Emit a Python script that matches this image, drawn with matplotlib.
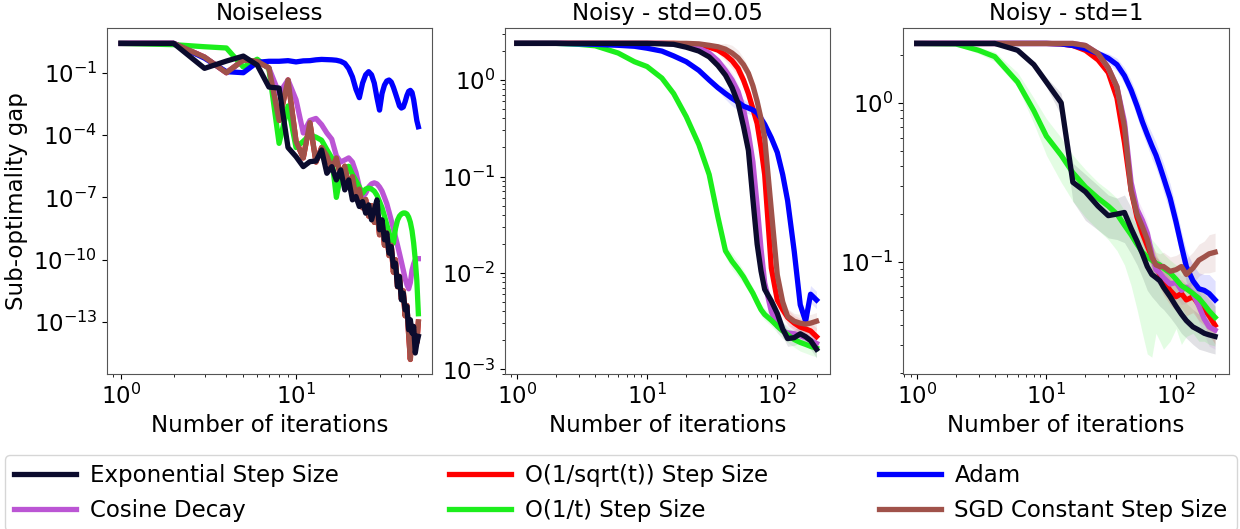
import matplotlib

matplotlib.use("Agg")

import matplotlib.pyplot as plt
import numpy as np
from matplotlib.ticker import NullLocator

# ---------------------------------------------------------------- data
# Noiseless panel: one point per iteration, values stored as log10(gap)
iters_noiseless = list(range(1, 51))

noiseless_exp_log10 = [
    0.41, 0.41, -0.79, -0.44, -0.2, -0.63, -1.69, -1.74, -4.6, -5.04,
    -5.52, -5.28, -5.25, -4.72, -5.84, -5.52, -6.16, -5.68, -6.64, -6.16,
    -7.12, -6.96, -7.44, -7.2, -7.76, -7.36, -8.08, -7.6, -7.12, -8.56,
    -8.08, -9.04, -8.72, -9.68, -9.37, -10.33, -10.17, -11.29, -10.81, -11.93,
    -11.61, -12.41, -12.25, -13.37, -12.89, -13.53, -13.21, -14.49, -14.01, -13.69,
]
noiseless_sgd_log10 = [
    0.41, 0.41, -0.25, -1.0, -0.39, -0.45, -0.77, -3.3, -1.35, -4.3,
    -5.1, -3.4, -5.3, -4.6, -5.0, -5.6, -5.1, -6.0, -5.5, -6.5,
    -6.0, -7.0, -6.6, -7.5, -7.1, -7.9, -7.4, -8.2, -7.6, -8.8,
    -8.2, -9.3, -8.7, -9.8, -9.3, -10.6, -10.0, -11.3, -10.8, -11.9,
    -11.5, -12.7, -12.2, -13.6, -14.8, -13.2, -13.9, -13.4, -14.0, -13.0,
]
# O(1/sqrt(t)) sits exactly under the constant step curve in this panel
noiseless_sqrt_log10 = list(noiseless_sgd_log10)
noiseless_inv_t_log10 = [
    0.41, 0.35, 0.25, 0.19, -0.73, -0.35, -0.8, -4.4, -2.6, -4.6,
    -4.3, -4.0, -4.1, -4.25, -4.7, -5.1, -7.0, -5.9, -5.6, -5.5,
    -5.9, -6.2, -6.5, -6.8, -6.6, -6.55, -6.6, -6.7, -6.9, -7.2,
    -7.5, -7.9, -8.3, -8.7, -9.1, -9.2, -8.5, -8.1, -7.9, -7.8,
    -7.75, -7.75, -7.8, -7.95, -8.2, -8.6, -9.2, -10.0, -11.0, -12.6,
]
noiseless_cos_log10 = [
    0.41, 0.41, -0.25, -1.0, -0.39, -0.45, -0.77, -2.0, -1.35, -2.3,
    -3.9, -3.3, -3.2, -3.5, -3.9, -4.2, -5.0, -5.3, -5.2, -5.1,
    -5.3, -5.8, -6.5, -7.0, -6.8, -6.5, -6.35, -6.3, -6.35, -6.5,
    -6.7, -7.0, -7.3, -7.7, -8.1, -8.5, -8.9, -9.3, -9.7, -10.1,
    -10.5, -10.9, -11.2, -11.4, -11.1, -10.5, -10.2, -10.0, -9.95, -9.95,
]
noiseless_adam_log10 = [
    0.41, 0.41, -0.3, -0.95, -1.0, -0.5, -0.45, -0.45, -0.42, -0.48,
    -0.43, -0.42, -0.38, -0.36, -0.37, -0.38, -0.4, -0.45, -0.55, -0.8,
    -1.2, -1.8, -2.2, -1.5, -1.1, -0.95, -1.1, -1.5, -2.2, -2.8,
    -2.0, -1.6, -1.4, -1.35, -1.45, -1.7, -2.0, -2.3, -2.6, -2.7,
    -2.65, -2.4, -2.1, -1.9, -1.85, -1.95, -2.3, -2.8, -3.3, -3.6,
]

# Noisy panels: mean curves read at these iterations (log10 of gap)
iters_noisy = [1, 2, 3, 4, 6, 8, 10, 13, 16, 20, 25, 30, 35, 40, 45, 50,
               55, 60, 65, 70, 75, 80, 90, 100, 110, 120, 135, 150, 165, 180, 200]

std005_exp_log10 = [0.38, 0.38, 0.38, 0.38, 0.38, 0.38, 0.38, 0.375, 0.37, 0.34, 0.30,
                    0.24, 0.15, 0.05, -0.08, -0.24, -0.48, -0.73, -1.24, -1.70, -1.98,
                    -2.17, -2.29, -2.42, -2.58, -2.68, -2.67, -2.63, -2.66, -2.70, -2.79]
std005_cos_log10 = [0.38, 0.38, 0.38, 0.38, 0.38, 0.38, 0.38, 0.38, 0.375, 0.36, 0.33,
                    0.28, 0.20, 0.10, 0.0, -0.12, -0.30, -0.55, -0.85, -1.30, -1.75,
                    -2.10, -2.40, -2.55, -2.60, -2.62, -2.63, -2.65, -2.67, -2.70, -2.73]
std005_sqrt_log10 = [0.38, 0.38, 0.38, 0.38, 0.38, 0.38, 0.38, 0.38, 0.38, 0.375, 0.36,
                     0.34, 0.31, 0.26, 0.20, 0.12, 0.0, -0.14, -0.30, -0.45, -0.70,
                     -0.98, -1.95, -2.28, -2.38, -2.46, -2.52, -2.56, -2.58, -2.60, -2.66]
std005_inv_t_log10 = [0.38, 0.38, 0.37, 0.355, 0.28, 0.19, 0.14, 0.02, -0.14, -0.38, -0.67,
                      -0.98, -1.42, -1.77, -1.88, -1.96, -2.04, -2.13, -2.21, -2.30, -2.38,
                      -2.43, -2.49, -2.55, -2.60, -2.64, -2.69, -2.72, -2.74, -2.76, -2.78]
std005_adam_log10 = [0.38, 0.38, 0.375, 0.37, 0.36, 0.35, 0.33, 0.30, 0.25, 0.19, 0.10,
                     0.0, -0.08, -0.14, -0.19, -0.23, -0.27, -0.29, -0.31, -0.34, -0.40,
                     -0.46, -0.60, -0.75, -0.98, -1.25, -1.78, -2.33, -2.50, -2.22, -2.28]
std005_sgd_log10 = [0.38, 0.38, 0.38, 0.38, 0.38, 0.38, 0.38, 0.38, 0.38, 0.38, 0.375,
                    0.36, 0.345, 0.32, 0.28, 0.23, 0.16, 0.07, -0.06, -0.22, -0.40,
                    -0.60, -1.35, -2.02, -2.30, -2.45, -2.50, -2.52, -2.53, -2.52, -2.50]
# half-width of the shaded band, in decades
std005_spread = [0, 0, 0, 0, 0, 0, 0, 0, 0, 0, 0,
                 0.01, 0.03, 0.06, 0.08, 0.08, 0.07, 0.06, 0.06, 0.06, 0.06,
                 0.06, 0.06, 0.07, 0.08, 0.08, 0.08, 0.09, 0.09, 0.09, 0.09]

std1_exp_log10 = [0.373, 0.373, 0.373, 0.373, 0.33, 0.24, 0.13, 0.0, -0.50, -0.56, -0.65,
                  -0.71, -0.70, -0.69, -0.79, -0.87, -0.95, -1.03, -1.08, -1.10, -1.12,
                  -1.16, -1.22, -1.28, -1.33, -1.37, -1.41, -1.43, -1.45, -1.46, -1.47]
std1_cos_log10 = [0.373, 0.373, 0.373, 0.373, 0.373, 0.373, 0.373, 0.373, 0.373, 0.36, 0.31,
                  0.22, 0.10, -0.12, -0.50, -0.67, -0.74, -0.82, -0.95, -1.05, -1.07,
                  -1.10, -1.14, -1.13, -1.18, -1.16, -1.20, -1.28, -1.36, -1.41, -1.43]
std1_sqrt_log10 = [0.373, 0.373, 0.373, 0.373, 0.373, 0.373, 0.373, 0.37, 0.36, 0.33, 0.27,
                   0.19, 0.03, -0.25, -0.55, -0.72, -0.82, -0.90, -0.97, -1.03, -1.08,
                   -1.12, -1.18, -1.22, -1.20, -1.24, -1.22, -1.27, -1.30, -1.34, -1.40]
std1_inv_t_log10 = [0.373, 0.37, 0.33, 0.29, 0.13, -0.05, -0.21, -0.33, -0.44, -0.53, -0.60,
                    -0.65, -0.70, -0.77, -0.83, -0.89, -0.94, -0.97, -0.99, -1.01, -1.02,
                    -1.04, -1.07, -1.11, -1.15, -1.17, -1.20, -1.23, -1.27, -1.31, -1.35]
std1_adam_log10 = [0.373, 0.373, 0.373, 0.373, 0.373, 0.373, 0.373, 0.37, 0.36, 0.34, 0.31,
                   0.28, 0.24, 0.17, 0.08, -0.02, -0.12, -0.20, -0.27, -0.33, -0.40,
                   -0.47, -0.60, -0.75, -0.90, -1.03, -1.12, -1.17, -1.18, -1.20, -1.24]
std1_sgd_log10 = [0.373, 0.373, 0.373, 0.373, 0.373, 0.373, 0.373, 0.373, 0.373, 0.36, 0.31,
                  0.22, 0.10, -0.15, -0.55, -0.70, -0.78, -0.86, -0.97, -1.02, -1.03,
                  -1.03, -1.06, -1.05, -1.03, -1.08, -1.04, -0.99, -0.97, -0.95, -0.94]
std1_spread = [0, 0, 0, 0, 0, 0, 0, 0.01, 0.01, 0.02, 0.02,
               0.03, 0.04, 0.05, 0.06, 0.07, 0.07, 0.07, 0.08, 0.08, 0.08,
               0.09, 0.09, 0.09, 0.09, 0.10, 0.10, 0.10, 0.10, 0.12, 0.12]
std1_inv_t_lo_log10 = [0.373, 0.36, 0.31, 0.26, 0.10, -0.13, -0.33, -0.50, -0.62, -0.72, -0.80,
                       -0.86, -0.93, -1.02, -1.15, -1.30, -1.45, -1.58, -1.60, -1.45, -1.50,
                       -1.55, -1.50, -1.42, -1.52, -1.47, -1.45, -1.50, -1.50, -1.52, -1.53]
std1_inv_t_hi_log10 = [0.373, 0.375, 0.35, 0.32, 0.19, 0.03, -0.10, -0.22, -0.33, -0.42, -0.50,
                       -0.55, -0.60, -0.68, -0.72, -0.77, -0.80, -0.83, -0.86, -0.89, -0.92,
                       -0.95, -0.99, -1.02, -1.05, -1.08, -1.12, -1.15, -1.20, -1.24, -1.28]
std1_exp_lo_log10 = [0.37, 0.37, 0.37, 0.37, 0.32, 0.22, 0.10, -0.08, -0.62, -0.74, -0.80,
                     -0.85, -0.86, -0.88, -0.95, -1.02, -1.10, -1.18, -1.22, -1.25, -1.28,
                     -1.30, -1.35, -1.40, -1.45, -1.48, -1.52, -1.55, -1.56, -1.57, -1.58]
std1_exp_hi_log10 = [0.376, 0.376, 0.376, 0.376, 0.34, 0.26, 0.16, 0.06, -0.38, -0.45, -0.52,
                     -0.58, -0.60, -0.58, -0.66, -0.73, -0.80, -0.88, -0.94, -0.97, -1.00,
                     -1.04, -1.10, -1.16, -1.22, -1.26, -1.30, -1.33, -1.35, -1.37, -1.38]

METHODS = ["exp", "cos", "sqrt", "inv_t", "adam", "sgd"]
LABELS = {
    "exp": "Exponential Step Size",
    "cos": "Cosine Decay",
    "sqrt": "O(1/sqrt(t)) Step Size",
    "inv_t": "O(1/t) Step Size",
    "adam": "Adam",
    "sgd": "SGD Constant Step Size",
}
COLORS = {
    "exp": "#0b0b2d",
    "cos": "#bb55d4",
    "sqrt": "#ff0000",
    "inv_t": "#1cee1c",
    "adam": "#0000ff",
    "sgd": "#a0524a",
}
# drawing order (bottom -> top)
ZORDER = {"sqrt": 2, "cos": 3, "inv_t": 4, "adam": 5, "sgd": 6, "exp": 7}

noiseless = {
    "exp": noiseless_exp_log10, "cos": noiseless_cos_log10,
    "sqrt": noiseless_sqrt_log10, "inv_t": noiseless_inv_t_log10,
    "adam": noiseless_adam_log10, "sgd": noiseless_sgd_log10,
}
std005 = {
    "exp": std005_exp_log10, "cos": std005_cos_log10,
    "sqrt": std005_sqrt_log10, "inv_t": std005_inv_t_log10,
    "adam": std005_adam_log10, "sgd": std005_sgd_log10,
}
std1 = {
    "exp": std1_exp_log10, "cos": std1_cos_log10,
    "sqrt": std1_sqrt_log10, "inv_t": std1_inv_t_log10,
    "adam": std1_adam_log10, "sgd": std1_sgd_log10,
}
std1_bands = {
    "inv_t": (std1_inv_t_lo_log10, std1_inv_t_hi_log10),
    "exp": (std1_exp_lo_log10, std1_exp_hi_log10),
}

LW = 3.8
FS = 16.5

plt.rcParams["font.size"] = FS

fig = plt.figure(figsize=(12.4, 5.29), dpi=100)
ax1 = fig.add_axes([0.0863, 0.293, 0.2621, 0.654])
ax2 = fig.add_axes([0.4073, 0.293, 0.2621, 0.654])
ax3 = fig.add_axes([0.7282, 0.293, 0.2629, 0.654])

handles = {}
for key in METHODS:
    (line,) = ax1.plot(iters_noiseless, np.power(10.0, noiseless[key]),
                       color=COLORS[key], lw=LW, zorder=ZORDER[key],
                       label=LABELS[key])
    handles[key] = line

x = np.array(iters_noisy)
for key in METHODS:
    mean = np.array(std005[key])
    spread = np.array(std005_spread)
    ax2.fill_between(x, np.power(10.0, mean - spread), np.power(10.0, mean + spread),
                     color=COLORS[key], alpha=0.1, lw=0, zorder=1)
    ax2.plot(x, np.power(10.0, mean), color=COLORS[key], lw=LW, zorder=ZORDER[key])

for key in METHODS:
    mean = np.array(std1[key])
    if key in std1_bands:
        lo, hi = (np.array(b) for b in std1_bands[key])
    else:
        lo = mean - np.array(std1_spread)
        hi = mean + np.array(std1_spread)
    ax3.fill_between(x, np.power(10.0, lo), np.power(10.0, hi),
                     color=COLORS[key], alpha=0.12, lw=0, zorder=1)
    ax3.plot(x, np.power(10.0, mean), color=COLORS[key], lw=LW, zorder=ZORDER[key])

for ax in (ax1, ax2, ax3):
    ax.set_xscale("log")
    ax.set_yscale("log")
    ax.set_xlabel("Number of iterations", fontsize=FS)
    ax.tick_params(labelsize=FS)
    for spine in ax.spines.values():
        spine.set_edgecolor("#555555")

ax1.set_xlim(10 ** -0.08, 10 ** 1.777)
ax1.set_ylim(10 ** -15.5, 10 ** 1.15)
ax1.set_yticks([1e-1, 1e-4, 1e-7, 1e-10, 1e-13])
ax1.yaxis.set_minor_locator(NullLocator())
ax1.set_ylabel("Sub-optimality gap", fontsize=FS)
ax1.set_title("Noiseless", fontsize=FS)

ax2.set_xlim(10 ** -0.09, 10 ** 2.405)
ax2.set_ylim(10 ** -3.047, 10 ** 0.539)
ax2.set_title("Noisy - std=0.05", fontsize=FS)

ax3.set_xlim(10 ** -0.106, 10 ** 2.408)
ax3.set_ylim(10 ** -1.706, 10 ** 0.47)
ax3.set_title("Noisy - std=1", fontsize=FS)

legend_order = ["exp", "cos", "sqrt", "inv_t", "adam", "sgd"]
fig.legend(
    [handles[k] for k in legend_order],
    [LABELS[k] for k in legend_order],
    loc="upper left",
    bbox_to_anchor=(0.004, 0.04, 0.9935, 0.0999),
    mode="expand",
    ncol=3,
    fontsize=FS,
    handlelength=2.7,
    handletextpad=0.6,
    borderaxespad=0.0,
)

fig.savefig("out.png", dpi=100)
plt.close(fig)
